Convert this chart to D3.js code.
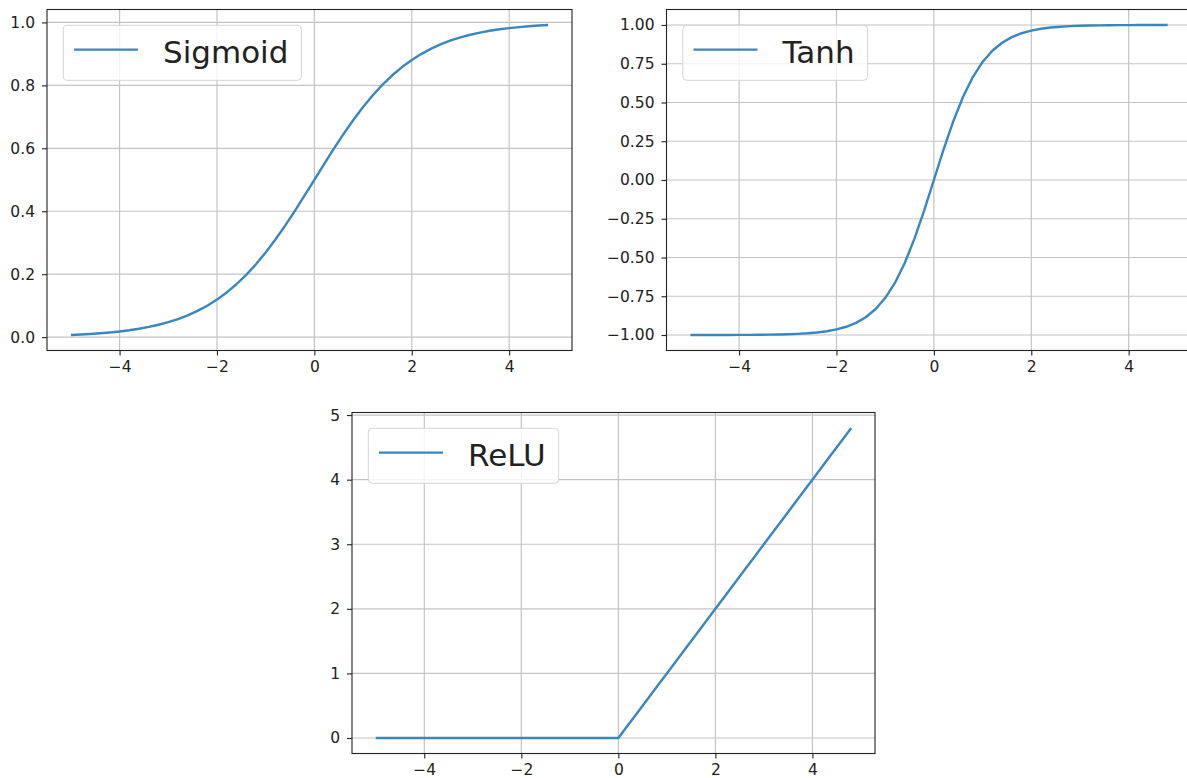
<!DOCTYPE html>
<html>
<head>
<meta charset="utf-8">
<script src="https://cdn.jsdelivr.net/npm/d3@7"></script>
<style>
  html, body { margin: 0; padding: 0; background: #fff; }
  svg { display: block; }
  text { font-family: "DejaVu Sans", sans-serif; fill: #222; }
</style>
</head>
<body>
<svg id="chart" width="1187" height="778"></svg>
<script>
// ---- data ----
const xValues = [-5.0,-4.8,-4.6,-4.4,-4.2,-4.0,-3.8,-3.6,-3.4,-3.2,-3.0,-2.8,-2.6,-2.4,-2.2,-2.0,-1.8,-1.6,-1.4,-1.2,-1.0,-0.8,-0.6,-0.4,-0.2,
  0.0,0.2,0.4,0.6,0.8,1.0,1.2,1.4,1.6,1.8,2.0,2.2,2.4,2.6,2.8,3.0,3.2,3.4,3.6,3.8,4.0,4.2,4.4,4.6,4.8];
const sigmoidValues = [0.0067,0.0082,0.0100,0.0121,0.0148,0.0180,0.0219,0.0266,0.0323,0.0392,0.0474,0.0573,0.0691,0.0832,0.0998,0.1192,0.1419,0.1680,0.1978,0.2315,0.2689,0.3100,0.3543,0.4013,0.4502,
  0.5000,0.5498,0.5987,0.6457,0.6900,0.7311,0.7685,0.8022,0.8320,0.8581,0.8808,0.9002,0.9168,0.9309,0.9427,0.9526,0.9608,0.9677,0.9734,0.9781,0.9820,0.9852,0.9879,0.9900,0.9918];
const tanhValues = [-0.9999,-0.9999,-0.9998,-0.9997,-0.9996,-0.9993,-0.9990,-0.9985,-0.9978,-0.9967,-0.9951,-0.9926,-0.9890,-0.9837,-0.9757,-0.9640,-0.9468,-0.9217,-0.8854,-0.8337,-0.7616,-0.6640,-0.5370,-0.3799,-0.1974,
  0.0000,0.1974,0.3799,0.5370,0.6640,0.7616,0.8337,0.8854,0.9217,0.9468,0.9640,0.9757,0.9837,0.9890,0.9926,0.9951,0.9967,0.9978,0.9985,0.9990,0.9993,0.9996,0.9997,0.9998,0.9999];
const reluValues = [0,0,0,0,0,0,0,0,0,0,0,0,0,0,0,0,0,0,0,0,0,0,0,0,0,
  0.0,0.2,0.4,0.6,0.8,1.0,1.2,1.4,1.6,1.8,2.0,2.2,2.4,2.6,2.8,3.0,3.2,3.4,3.6,3.8,4.0,4.2,4.4,4.6,4.8];

const xTicks = [-4, -2, 0, 2, 4];
const sigmoidTicks = [0.0, 0.2, 0.4, 0.6, 0.8, 1.0];
const tanhTicks = [-1.00, -0.75, -0.50, -0.25, 0.00, 0.25, 0.50, 0.75, 1.00];
const reluTicks = [0, 1, 2, 3, 4, 5];
const seriesNames = ["Sigmoid", "Tanh", "ReLU"];

// ---- layout ----
const svg = d3.select("#chart");
const lineColor = "#3a86c0";
const panels = [
  { name: seriesNames[0], ys: sigmoidValues, ticks: sigmoidTicks, fmt: d3.format(".1f"), left: 47,  top: 9.5,   w: 525, h: 341 },
  { name: seriesNames[1], ys: tanhValues,    ticks: tanhTicks,    fmt: d3.format(".2f"), left: 666.5, top: 9.5, w: 525, h: 341 },
  { name: seriesNames[2], ys: reluValues,    ticks: reluTicks,    fmt: d3.format("d"),   left: 352, top: 412.5, w: 523, h: 341 }
];

const minus = s => s.replace("-", "\u2212");

function margins(ext) {
  const r = ext[1] - ext[0];
  return [ext[0] - 0.05 * r, ext[1] + 0.05 * r];
}

panels.forEach(p => {
  const g = svg.append("g").attr("transform", `translate(${p.left},${p.top})`);
  const x = d3.scaleLinear().domain(margins(d3.extent(xValues))).range([0, p.w]);
  const y = d3.scaleLinear().domain(margins(d3.extent(p.ys))).range([p.h, 0]);

  // grid
  g.append("g").selectAll("line").data(xTicks).join("line")
    .attr("x1", d => x(d)).attr("x2", d => x(d))
    .attr("y1", 0).attr("y2", p.h)
    .attr("stroke", "#c4c4c4").attr("stroke-width", 1.2);
  g.append("g").selectAll("line").data(p.ticks).join("line")
    .attr("x1", 0).attr("x2", p.w)
    .attr("y1", d => y(d)).attr("y2", d => y(d))
    .attr("stroke", "#c4c4c4").attr("stroke-width", 1.2);

  // curve
  const pts = xValues.map((v, i) => [v, p.ys[i]]);
  g.append("path").datum(pts)
    .attr("fill", "none").attr("stroke", lineColor).attr("stroke-width", 2.4)
    .attr("stroke-linejoin", "round")
    .attr("d", d3.line().x(d => x(d[0])).y(d => y(d[1])));

  // axes
  const xa = g.append("g").attr("transform", `translate(0,${p.h})`)
    .call(d3.axisBottom(x).tickValues(xTicks).tickSize(5).tickPadding(5).tickFormat(d => minus(d3.format("d")(d))));
  const ya = g.append("g")
    .call(d3.axisLeft(y).tickValues(p.ticks).tickSize(5).tickPadding(7).tickFormat(d => minus(p.fmt(d))));
  [xa, ya].forEach(a => {
    a.select(".domain").remove();
    a.selectAll(".tick line").attr("stroke", "#222").attr("stroke-width", 1.1);
    a.selectAll(".tick text").attr("font-size", 15.5).attr("font-family", "DejaVu Sans").attr("fill", "#222");
  });

  // frame
  g.append("rect").attr("x", 0).attr("y", 0).attr("width", p.w).attr("height", p.h)
    .attr("fill", "none").attr("stroke", "#222").attr("stroke-width", 1.1);

  // legend
  const lg = g.append("g").attr("transform", "translate(16.3,15.8)");
  const box = lg.append("rect").attr("x", 0).attr("y", 0).attr("height", 55).attr("rx", 4)
    .attr("fill", "#fff").attr("fill-opacity", 0.8).attr("stroke", "#d4d4d4").attr("stroke-width", 1);
  lg.append("line").attr("x1", 10.7).attr("x2", 74.7).attr("y1", 24.3).attr("y2", 24.3)
    .attr("stroke", lineColor).attr("stroke-width", 2.4);
  const t = lg.append("text").attr("x", 99.7).attr("y", 37.3).attr("font-size", 31).text(p.name);
  const tw = t.node().getComputedTextLength();
  box.attr("width", 99.7 + tw + 13);
});
</script>
</body>
</html>
